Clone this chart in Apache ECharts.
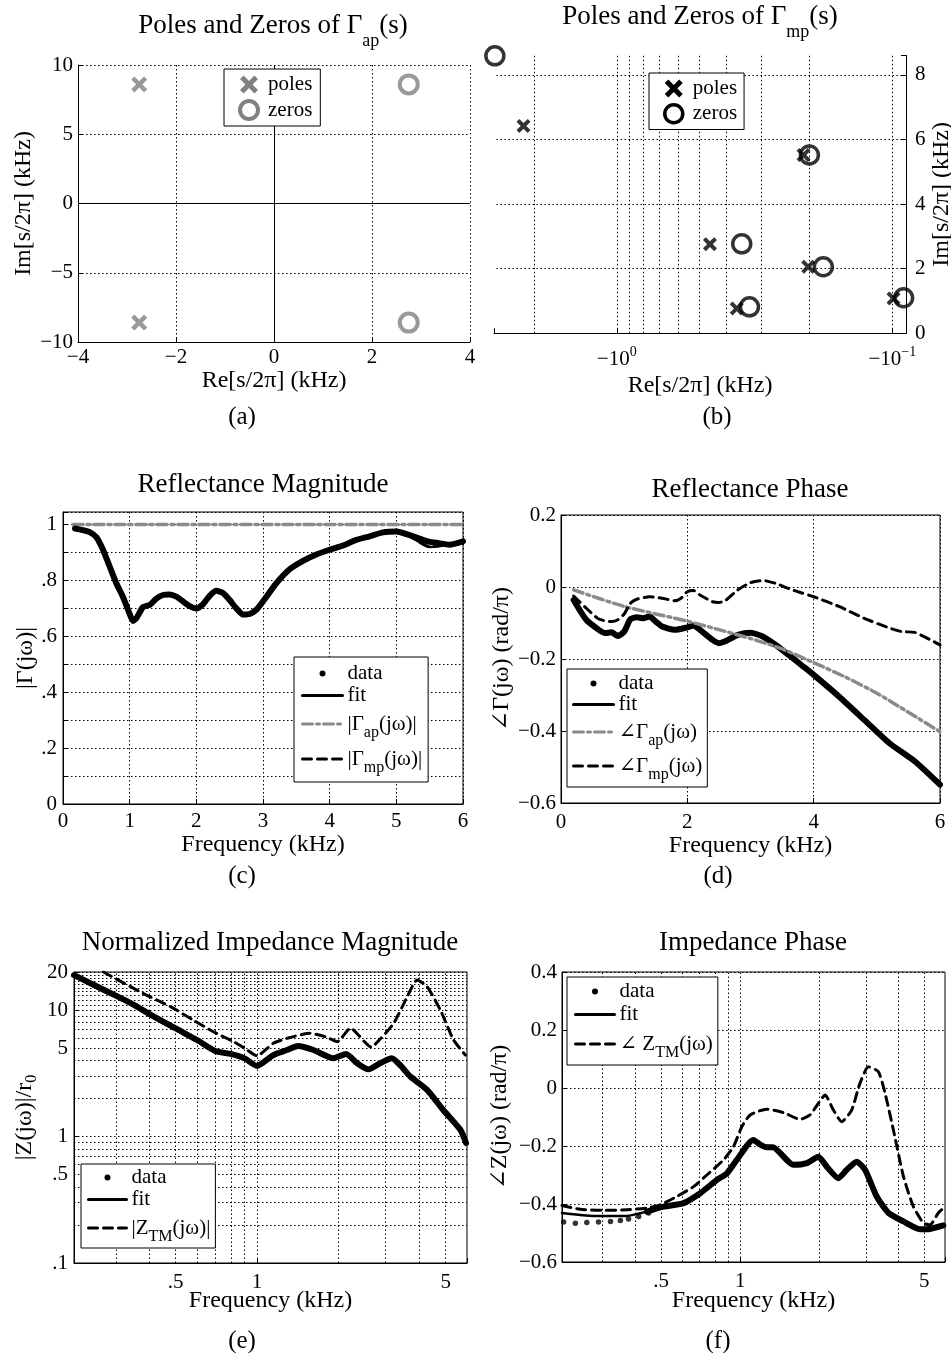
<!DOCTYPE html>
<html>
<head>
<meta charset="UTF-8">
<title>Reflectance and impedance fits</title>
<script src="https://cdn.jsdelivr.net/npm/echarts@6.0.0/dist/echarts.min.js"></script>
<style>
html, body { margin: 0; padding: 0; background: #fff; }
#main { width: 951px; height: 1353px; }
</style>
</head>
<body>
<div id="main"></div>
<script>
// (a) all-pass part, kHz
var apPoleRe = [-2.75, -2.75];
var apPoleIm = [8.6, -8.6];
var apZeroRe = [2.75, 2.75];
var apZeroIm = [8.6, -8.6];

// (b) minimum-phase part, kHz
var mpPoleRe = [-2.18, -0.459, -0.367, -0.210, -0.202, -0.099];
var mpPoleIm = [6.42, 2.76, 0.77, 5.52, 2.06, 1.08];
var mpZeroRe = [-2.77, -0.352, -0.330, -0.200, -0.178, -0.091];
var mpZeroIm = [8.59, 2.77, 0.82, 5.52, 2.06, 1.10];

// (c) reflectance magnitude
var magFreq = [0.18,0.2,0.3,0.4,0.5,0.6,0.7,0.8,0.9,1.0,1.05,1.1,1.2,1.3,1.4,1.5,1.6,1.7,1.8,1.9,2.0,2.1,2.2,2.3,2.4,2.5,2.6,2.7,2.8,2.9,3.0,3.2,3.4,3.6,3.8,4.0,4.2,4.4,4.6,4.8,5.0,5.2,5.4,5.5,5.6,5.8,6.0];
var magFit  = [0.986,0.985,0.98,0.973,0.955,0.91,0.85,0.79,0.741,0.68,0.655,0.665,0.705,0.712,0.735,0.748,0.75,0.742,0.725,0.708,0.70,0.715,0.745,0.763,0.755,0.73,0.70,0.678,0.68,0.695,0.725,0.79,0.84,0.87,0.893,0.91,0.925,0.945,0.958,0.972,0.975,0.958,0.93,0.92,0.922,0.93,0.932];
var magData = [0.986,0.985,0.98,0.973,0.955,0.91,0.85,0.79,0.741,0.68,0.655,0.665,0.705,0.712,0.735,0.748,0.75,0.742,0.725,0.708,0.70,0.715,0.745,0.763,0.755,0.73,0.70,0.678,0.68,0.695,0.725,0.79,0.84,0.87,0.893,0.91,0.925,0.945,0.958,0.972,0.975,0.962,0.945,0.938,0.935,0.928,0.94];
var magApFreq = [0.15, 6.0];
var magAp = [1, 1];

// (d) reflectance phase, rad/pi
var phFreq = [0.2,0.4,0.6,0.7,0.8,0.9,1.0,1.1,1.2,1.3,1.4,1.5,1.6,1.8,2.0,2.1,2.2,2.4,2.5,2.6,2.8,3.0,3.2,3.4,3.6,3.8,4.0,4.4,4.8,5.2,5.6,6.0];
var phFit  = [-0.036,-0.091,-0.119,-0.128,-0.126,-0.136,-0.124,-0.089,-0.084,-0.087,-0.082,-0.096,-0.110,-0.119,-0.112,-0.107,-0.119,-0.147,-0.156,-0.151,-0.133,-0.127,-0.138,-0.161,-0.188,-0.216,-0.244,-0.304,-0.369,-0.434,-0.484,-0.549];
var phApFreq = [0.2,1.0,2.0,3.0,3.5,4.0,4.5,5.0,5.5,6.0];
var phAp = [-0.008,-0.054,-0.095,-0.143,-0.172,-0.21,-0.25,-0.295,-0.348,-0.402];
var phMpFreq = [0.2,0.4,0.6,0.8,0.9,1.0,1.1,1.2,1.4,1.6,1.8,1.9,2.0,2.1,2.2,2.4,2.5,2.6,2.8,3.0,3.2,3.4,3.6,3.8,4.0,4.4,4.8,5.2,5.4,5.6,6.0];
var phMp = [-0.025,-0.059,-0.089,-0.096,-0.091,-0.075,-0.045,-0.034,-0.027,-0.031,-0.038,-0.031,-0.013,-0.010,-0.022,-0.041,-0.043,-0.038,-0.008,0.012,0.018,0.010,-0.004,-0.016,-0.027,-0.054,-0.087,-0.114,-0.124,-0.126,-0.161];

// (e) normalized impedance magnitude
var zFreq = [0.21,0.25,0.3,0.35,0.4,0.5,0.6,0.7,0.8,0.9,1.0,1.15,1.29,1.42,1.62,1.92,2.14,2.35,2.59,2.86,3.16,3.4,3.7,4.27,4.9,5.67,5.95];
var zFit  = [18.9,15.7,13.0,11.0,9.3,7.15,5.8,4.75,4.5,4.15,3.62,4.41,4.83,5.2,4.83,4.16,4.5,3.8,3.4,3.8,4.16,3.65,2.98,2.34,1.62,1.13,0.89];
var zTmFreq = [0.27,0.38,0.48,0.58,0.69,0.82,0.9,1.0,1.15,1.29,1.57,1.82,1.98,2.22,2.65,2.86,3.21,3.6,3.92,4.27,4.78,5.35,5.92];
var zTm = [20,13.5,10.6,8.34,6.74,5.62,4.99,4.35,5.46,5.97,6.55,6.09,5.62,7.17,5.1,5.9,7.85,12.7,17.3,15.3,10,5.8,4.41];

// (f) impedance phase, rad/pi
var fFreq = [0.21,0.277,0.371,0.442,0.511,0.609,0.704,0.815,0.89,0.97,1.12,1.19,1.26,1.33,1.59,1.79,1.98,2.13,2.36,2.54,2.77,2.98,3.3,3.66,4.17,4.82,5.26,5.91];
var fFit  = [-0.431,-0.441,-0.441,-0.426,-0.409,-0.397,-0.363,-0.317,-0.294,-0.248,-0.179,-0.195,-0.204,-0.204,-0.265,-0.259,-0.237,-0.271,-0.311,-0.282,-0.254,-0.282,-0.374,-0.431,-0.46,-0.487,-0.486,-0.474];
var fDotFreq = [0.213,0.236,0.261,0.289,0.321,0.35,0.376,0.411,0.448];
var fDot = [-0.462,-0.466,-0.464,-0.462,-0.46,-0.457,-0.452,-0.443,-0.431];
var fTmFreq = [0.21,0.246,0.302,0.371,0.442,0.496,0.574,0.664,0.746,0.863,0.942,1.014,1.09,1.26,1.46,1.69,1.84,1.98,2.10,2.26,2.43,2.65,2.85,3.07,3.35,3.55,3.82,4.17,4.55,4.97,5.26,5.66,6.0];
var fTm = [-0.405,-0.418,-0.422,-0.420,-0.414,-0.403,-0.374,-0.340,-0.300,-0.248,-0.202,-0.133,-0.093,-0.073,-0.085,-0.108,-0.093,-0.053,-0.024,-0.076,-0.116,-0.076,0.016,0.073,0.056,-0.018,-0.145,-0.305,-0.409,-0.466,-0.472,-0.431,-0.41];

// grid lines and tick labels of the log axes
var bGridRe = [2, 1, 0.9, 0.8, 0.7, 0.6, 0.5, 0.4, 0.3, 0.2, 0.1];
var bGridIm = [2, 4, 6, 8];
var freqGrid = [0.3, 0.4, 0.5, 0.6, 0.7, 0.8, 0.9, 1, 2, 3, 4, 5];
var freqLabels = {0.5: '.5', 1: '1', 5: '5'};
var zGrid = [0.1,0.2,0.3,0.4,0.5,0.6,0.7,0.8,0.9,1,2,3,4,5,6,7,8,9,10,11,12,13,14,15,16,17,18,19,20];
var zLabels = {0.1: '.1', 0.5: '.5', 1: '1', 5: '5', 10: '10', 20: '20'};

var FONT = "'Liberation Serif', 'Times New Roman', 'DejaVu Serif', serif";
var BLACK = '#000';
var GREY = '#8a8a8a';
var DOT = [1.5, 2.5];
var DASH = [9, 6];
var DASHDOT = [10, 4, 3, 4];
var XMARK = 'path://M0,2L2,0L5,3L8,0L10,2L7,5L10,8L8,10L5,7L2,10L0,8L3,5Z';
var TICK = 21;

function pairs(xs, ys) { return xs.map(function (x, i) { return [x, ys[i]]; }); }
// the mp plot uses a log axis of |Re|, shown with minus signs
function negPairs(xs, ys) { return xs.map(function (x, i) { return [-x, ys[i]]; }); }

// rich text: t = normal, sub pushed down, sup pushed up (shift in px)
function richSet(size, subSize, lh, shift, subLh) {
  var base = {fontFamily: FONT, fontWeight: 'normal', color: BLACK};
  return {
    t: Object.assign({fontSize: size, lineHeight: lh}, base),
    sub: Object.assign({fontSize: subSize, lineHeight: subLh || lh, padding: [2 * shift, 0, 0, 0]}, base),
    sup: Object.assign({fontSize: subSize, lineHeight: subLh || lh, padding: [0, 0, 2 * shift, 0]}, base)
  };
}
var titleRich = richSet(27, 18, 31, 16);
var capRich = richSet(25, 16, 29, 0);
var nameRich = richSet(24, 16, 28, 7);
var tickRich = richSet(TICK, 14, 24, 7);
var legendRich = richSet(21, 16, 23, 9, 38);

var LEGEND_TEXT = {
  a_poles: '{t|poles}', a_zeros: '{t|zeros}',
  b_poles: '{t|poles}', b_zeros: '{t|zeros}',
  c_data: '{t|data}', c_fit: '{t|fit}', c_ap: '{t||Γ}{sub|ap}{t|(jω)|}', c_mp: '{t||Γ}{sub|mp}{t|(jω)|}',
  d_data: '{t|data}', d_fit: '{t|fit}', d_ap: '{t|∠Γ}{sub|ap}{t|(jω)}', d_mp: '{t|∠Γ}{sub|mp}{t|(jω)}',
  e_data: '{t|data}', e_fit: '{t|fit}', e_tm: '{t||Z}{sub|TM}{t|(jω)|}',
  f_data: '{t|data}', f_fit: '{t|fit}', f_tm: '{t|∠ Z}{sub|TM}{t|(jω)}'
};

function minus(v) { return v < 0 ? '−' + (-v) : String(v); }
function phaseFmt(v) {
  if (Math.abs(v) < 1e-9) return '0';
  return (v < 0 ? '−' : '') + Math.abs(v).toFixed(1);
}
function magFmt(v) {
  var k = Math.round(v * 10);
  if (Math.abs(v * 10 - k) > 1e-6 || k % 2) return '';
  return k === 0 ? '0' : (k === 10 ? '1' : '.' + k);
}
function decadeFmt(v) {
  if (Math.abs(v - 1) < 1e-6) return '{t|−10}{sup|0}';
  if (Math.abs(v - 0.1) < 1e-7) return '{t|−10}{sup|−1}';
  return '';
}

function heading(text, x, y, rich) {
  return {text: text, left: x, top: y, textAlign: 'center', textVerticalAlign: 'top', padding: 0,
    textStyle: {fontFamily: FONT, fontSize: rich.t.fontSize, fontWeight: 'normal', color: BLACK, rich: rich}};
}

function axis(o) {
  var a = {
    gridIndex: o.grid, type: o.type || 'value', min: o.min, max: o.max,
    axisLine: {show: true, onZero: false, lineStyle: {color: BLACK, width: 1}},
    axisTick: {show: true, inside: true, length: 5, lineStyle: {color: BLACK}},
    axisLabel: {show: !!o.fmt, formatter: o.fmt, margin: o.margin == null ? 6 : o.margin,
      fontFamily: FONT, fontSize: TICK, color: BLACK, rich: tickRich},
    splitLine: {show: !!o.split, lineStyle: {color: BLACK, width: 1, type: DOT}},
    name: o.name, nameLocation: 'middle', nameGap: o.gap, nameRotate: o.rotate || 0,
    nameTextStyle: {fontFamily: FONT, fontSize: 24, color: BLACK, rich: nameRich}
  };
  if (o.interval) a.interval = o.interval;
  if (o.position) a.position = o.position;
  if (o.inverse) a.inverse = true;
  if (a.type === 'log') a.logBase = 10;
  return a;
}

function boxGrid(l, t, w, h, framed) {
  return {left: l, top: t, width: w, height: h, containLabel: false, outerBoundsMode: 'none',
    show: !!framed, borderColor: BLACK, borderWidth: 1, backgroundColor: 'transparent'};
}

function legendBox(o) {
  return {
    orient: 'vertical', left: o.left, top: o.top, padding: o.padding, itemGap: o.gap,
    itemWidth: o.w, itemHeight: o.h, backgroundColor: '#fff', borderColor: BLACK, borderWidth: 1,
    selectedMode: false, symbolKeepAspect: true, data: o.data,
    formatter: function (n) { return LEGEND_TEXT[n]; },
    textStyle: {fontFamily: FONT, fontSize: 21, color: BLACK, rich: legendRich},
    itemStyle: {opacity: 0}, lineStyle: {width: 3}
  };
}

// dotted grid lines (with optional tick labels) for the log axes
function gridLines(xs, ys, xLab, yLab) {
  var d = [];
  (xs || []).forEach(function (v) {
    var it = {xAxis: v};
    if (xLab && xLab[v] !== undefined) it.label = {show: true, formatter: xLab[v], distance: 9};
    d.push(it);
  });
  (ys || []).forEach(function (v) {
    var it = {yAxis: v};
    if (yLab && yLab[v] !== undefined) it.label = {show: true, formatter: yLab[v], distance: 6};
    d.push(it);
  });
  return {silent: true, symbol: ['none', 'none'], z: 1, animation: false,
    label: {show: false, position: 'start', fontFamily: FONT, fontSize: TICK, color: BLACK},
    lineStyle: {color: BLACK, width: 1, type: DOT}, emphasis: {disabled: true}, data: d};
}

function curve(name, gi, xs, ys, color, width, type, extra) {
  return Object.assign({
    name: name, type: 'line', xAxisIndex: gi, yAxisIndex: gi, data: pairs(xs, ys),
    symbol: 'none', smooth: 0.2, silent: true, emphasis: {disabled: true},
    itemStyle: {color: color},
    lineStyle: {color: color, width: width, type: type || 'solid', cap: 'round', join: 'round'}
  }, extra || {});
}

var option = {
  animation: false,
  backgroundColor: '#fff',
  title: [
    heading('{t|Poles and Zeros of Γ}{sub|ap}{t|(s)}', 273, 10, titleRich),
    heading('{t|Poles and Zeros of Γ}{sub|mp}{t|(s)}', 700, 1, titleRich),
    heading('{t|Reflectance Magnitude}', 263, 469, titleRich),
    heading('{t|Reflectance Phase}', 750, 474, titleRich),
    heading('{t|Normalized Impedance Magnitude}', 270, 927, titleRich),
    heading('{t|Impedance Phase}', 753, 927, titleRich),
    heading('{t|(a)}', 242, 403, capRich),
    heading('{t|(b)}', 717, 403, capRich),
    heading('{t|(c)}', 242, 862, capRich),
    heading('{t|(d)}', 718, 862, capRich),
    heading('{t|(e)}', 242, 1327, capRich),
    heading('{t|(f)}', 718, 1327, capRich)
  ],
  legend: [
    legendBox({left: 224, top: 69, padding: [5, 8, 5, 14], gap: 4, w: 28, h: 18, data: [
      {name: 'a_poles', itemStyle: {opacity: 1, borderWidth: 0}},
      {name: 'a_zeros', itemStyle: {opacity: 1, borderWidth: 4}}]}),
    legendBox({left: 649, top: 73, padding: [5, 7, 5, 14], gap: 4, w: 28, h: 18, data: [
      {name: 'b_poles', itemStyle: {opacity: 1, borderWidth: 0}},
      {name: 'b_zeros', itemStyle: {opacity: 1, borderWidth: 3.5}}]}),
    legendBox({left: 294, top: 657, padding: [6, 6, 6, 7], gap: 1, w: 40, h: 6, data: [
      {name: 'c_data', icon: 'circle', itemStyle: {opacity: 1}}, {name: 'c_fit'}, {name: 'c_ap'}, {name: 'c_mp'}]}),
    legendBox({left: 567, top: 669, padding: [4, 5, 4, 5], gap: 0, w: 40, h: 6, data: [
      {name: 'd_data', icon: 'circle', itemStyle: {opacity: 1}}, {name: 'd_fit'}, {name: 'd_ap'}, {name: 'd_mp'}]}),
    legendBox({left: 81, top: 1164, padding: [3, 5, 3, 6], gap: 1, w: 38, h: 6, data: [
      {name: 'e_data', icon: 'circle', itemStyle: {opacity: 1}}, {name: 'e_fit'}, {name: 'e_tm'}]}),
    legendBox({left: 567, top: 977, padding: [4, 5, 4, 7], gap: 2, w: 39, h: 6, data: [
      {name: 'f_data', icon: 'circle', itemStyle: {opacity: 1}}, {name: 'f_fit'}, {name: 'f_tm'}]})
  ],
  grid: [
    boxGrid(78, 65, 392, 277, false),
    boxGrid(494, 55.5, 412, 277.8, false),
    boxGrid(63, 512, 400, 292, true),
    boxGrid(561, 515, 379, 288, true),
    boxGrid(74, 972, 393, 291, true),
    boxGrid(562, 972, 383, 290, true)
  ],
  xAxis: [
    axis({grid: 0, min: -4, max: 4, interval: 2, fmt: minus, split: true, margin: 5, name: 'Re[s/2π] (kHz)', gap: 27}),
    axis({grid: 1, type: 'log', min: 0.0892, max: 2.79, inverse: true, fmt: decadeFmt, margin: 14, name: 'Re[s/2π] (kHz)', gap: 36}),
    axis({grid: 2, min: 0, max: 6, interval: 1, fmt: function (v) { return String(v); }, split: true, margin: 7, name: 'Frequency (kHz)', gap: 25}),
    axis({grid: 3, min: 0, max: 6, interval: 2, fmt: function (v) { return String(v); }, split: true, margin: 9, name: 'Frequency (kHz)', gap: 25}),
    axis({grid: 4, type: 'log', min: 0.21, max: 6, fmt: null, name: 'Frequency (kHz)', gap: 26}),
    axis({grid: 5, type: 'log', min: 0.21, max: 6, fmt: null, name: 'Frequency (kHz)', gap: 27})
  ],
  yAxis: [
    axis({grid: 0, min: -10, max: 10, interval: 5, fmt: minus, split: true, margin: 5, name: 'Im[s/2π] (kHz)', gap: 42, rotate: 90}),
    axis({grid: 1, min: 0, max: 8.6, interval: 2, position: 'right', fmt: function (v) { return (v % 2 === 0 && v <= 8) ? String(v) : ''; }, margin: 9, name: 'Im[s/2π] (kHz)', gap: 20, rotate: 90}),
    axis({grid: 2, min: 0, max: 1.045, interval: 0.1, fmt: magFmt, split: true, margin: 6, name: '|Γ(jω)|', gap: 24, rotate: 90}),
    axis({grid: 3, min: -0.6, max: 0.2, interval: 0.2, fmt: phaseFmt, split: true, margin: 5, name: '∠Γ(jω) (rad/π)', gap: 47, rotate: 90}),
    axis({grid: 4, type: 'log', min: 0.1, max: 20, fmt: null, name: '{t||Z(jω)|/r}{sub|0}', gap: 35, rotate: 90}),
    axis({grid: 5, min: -0.6, max: 0.4, interval: 0.2, fmt: phaseFmt, split: true, margin: 5, name: '∠Z(jω) (rad/π)', gap: 50, rotate: 90})
  ],
  series: [
    // (a)
    {name: 'a_poles', type: 'scatter', xAxisIndex: 0, yAxisIndex: 0, data: pairs(apPoleRe, apPoleIm),
      symbol: XMARK, symbolSize: 16, itemStyle: {color: '#808080'}, silent: true, clip: false,
      markLine: {silent: true, symbol: ['none', 'none'], z: 1, label: {show: false},
        lineStyle: {color: BLACK, width: 1, type: 'solid'}, data: [{xAxis: 0}, {yAxis: 0}]}},
    {name: 'a_zeros', type: 'scatter', xAxisIndex: 0, yAxisIndex: 0, data: pairs(apZeroRe, apZeroIm),
      symbol: 'circle', symbolSize: 18, silent: true, clip: false,
      itemStyle: {color: 'rgba(0,0,0,0)', borderColor: '#808080', borderWidth: 4}},
    // (b)
    {name: 'b_zeros', type: 'scatter', xAxisIndex: 1, yAxisIndex: 1, data: negPairs(mpZeroRe, mpZeroIm),
      symbol: 'circle', symbolSize: 18, silent: true, clip: false,
      itemStyle: {color: 'rgba(0,0,0,0)', borderColor: BLACK, borderWidth: 3.5},
      markLine: gridLines(bGridRe, bGridIm)},
    {name: 'b_poles', type: 'scatter', xAxisIndex: 1, yAxisIndex: 1, data: negPairs(mpPoleRe, mpPoleIm),
      symbol: XMARK, symbolSize: 14, silent: true, clip: false, itemStyle: {color: BLACK}},
    // (c)
    curve('c_ap', 2, magApFreq, magAp, GREY, 3.5, DASHDOT, {smooth: false}),
    curve('c_mp', 2, magFreq, magFit, BLACK, 3, DASH),
    curve('c_data', 2, magFreq, magData, BLACK, 6),
    curve('c_fit', 2, magFreq, magFit, BLACK, 2.5),
    // (d)
    curve('d_data', 3, phFreq, phFit, BLACK, 6),
    curve('d_fit', 3, phFreq, phFit, BLACK, 2.5),
    curve('d_ap', 3, phApFreq, phAp, GREY, 3.5, DASHDOT),
    curve('d_mp', 3, phMpFreq, phMp, BLACK, 3, DASH),
    // (e)
    curve('e_data', 4, zFreq, zFit, BLACK, 6),
    curve('e_fit', 4, zFreq, zFit, BLACK, 2.5, 'solid', {markLine: gridLines(freqGrid, zGrid, freqLabels, zLabels)}),
    curve('e_tm', 4, zTmFreq, zTm, BLACK, 3, DASH),
    // (f)
    {name: 'f_data', type: 'scatter', xAxisIndex: 5, yAxisIndex: 5, data: pairs(fDotFreq, fDot),
      symbol: 'circle', symbolSize: 5.5, silent: true, itemStyle: {color: BLACK}},
    curve('f_data', 5, fFreq.slice(3), fFit.slice(3), BLACK, 6),
    curve('f_fit', 5, fFreq, fFit, BLACK, 2.5, 'solid', {markLine: gridLines(freqGrid, null, freqLabels, null)}),
    curve('f_tm', 5, fTmFreq, fTm, BLACK, 3, DASH)
  ]
};

var chart = echarts.init(document.getElementById('main'));
chart.setOption(option);
</script>
</body>
</html>
